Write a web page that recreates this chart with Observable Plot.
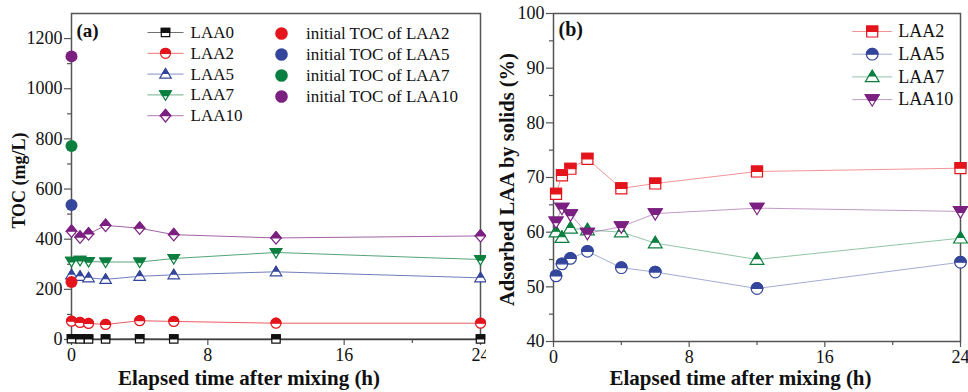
<!DOCTYPE html>
<html>
<head>
<meta charset="utf-8">
<script src="https://cdn.jsdelivr.net/npm/d3@7"></script>
<script src="https://cdn.jsdelivr.net/npm/@observablehq/plot@0.6"></script>
<style>
  html, body { margin: 0; padding: 0; background: white; }
  #wrap { display: flex; width: 968px; height: 392px; overflow: hidden; }
  #wrap > div { flex: none; }
  #wrap svg, #wrap svg text, #wrap svg g { font-family: "Liberation Serif", Tinos, "Times New Roman", Times, "DejaVu Serif", serif !important; }
</style>
</head>
<body>
<div id="wrap"><div id="pa"></div><div id="pb"></div></div>
<script>
// ---------- data ----------
const timesA = [0, 0.5, 1, 2, 4, 6, 12, 24];
const timesB = [0.15, 0.5, 1, 2, 4, 6, 12, 24];

const tocLAA0  = [3, 2, 2, 2, 3, 2, 2, 2];
const tocLAA2  = [73, 68, 64, 60, 75, 72, 65, 65];
const tocLAA5  = [258, 252, 246, 240, 252, 258, 270, 246];
const tocLAA7  = [312, 316, 311, 309, 309, 323, 347, 319];
const tocLAA10 = [432, 408, 421, 455, 444, 418, 405, 413];

const initialLabels = ["initial TOC of LAA2", "initial TOC of LAA5", "initial TOC of LAA7", "initial TOC of LAA10"];
const initialTOC = [229, 536, 772, 1129];

const adsLAA2  = [67.0, 70.4, 71.6, 73.4, 68.0, 68.9, 71.1, 71.7];
const adsLAA5  = [52.0, 54.2, 55.2, 56.5, 53.5, 52.7, 49.7, 54.5];
const adsLAA7  = [60.0, 59.0, 60.7, 60.4, 60.0, 58.0, 55.0, 58.9];
const adsLAA10 = [61.9, 64.4, 63.2, 59.8, 61.0, 63.4, 64.4, 63.8];

const xTicks = [0, 8, 16, 24];
const xMinor = [4, 12, 20];
const yTicksA = [0, 200, 400, 600, 800, 1000, 1200];
const yMinorA = [100, 300, 500, 700, 900, 1100];
const yTicksB = [40, 50, 60, 70, 80, 90, 100];
const yMinorB = [45, 55, 65, 75, 85, 95];

const labelsA = ["LAA0", "LAA2", "LAA5", "LAA7", "LAA10"];
const labelsB = ["LAA2", "LAA5", "LAA7", "LAA10"];

// ---------- styling ----------
const FONT = "'Liberation Serif', Tinos, 'Times New Roman', Times, 'DejaVu Serif', serif";
const C = {LAA0: "#111111", LAA2: "#e3141c", LAA5: "#34469b", LAA7: "#0b7f3f", LAA10: "#7b2080"};
const rad = s => Math.sqrt(s / Math.PI);
const S = {
  square: {
    full: {draw(c, s) { const r = rad(s); c.rect(-r, -r, 2 * r, 2 * r); }},
    top:  {draw(c, s) { const r = rad(s); c.rect(-r, -r, 2 * r, r); }}
  },
  circle: {
    full: {draw(c, s) { const r = rad(s); c.moveTo(r, 0); c.arc(0, 0, r, 0, 2 * Math.PI); c.closePath(); }},
    top:  {draw(c, s) { const r = rad(s); c.moveTo(-r, 0); c.arc(0, 0, r, Math.PI, 2 * Math.PI); c.closePath(); }}
  },
  up: {
    full: {draw(c, s) { const r = rad(s); c.moveTo(0, -1.1 * r); c.lineTo(1.15 * r, 0.8 * r); c.lineTo(-1.15 * r, 0.8 * r); c.closePath(); }},
    top:  {draw(c, s) { const r = rad(s); c.moveTo(0, -1.1 * r); c.lineTo(0.575 * r, -0.15 * r); c.lineTo(-0.575 * r, -0.15 * r); c.closePath(); }}
  },
  down: {
    full: {draw(c, s) { const r = rad(s); c.moveTo(-1.15 * r, -0.8 * r); c.lineTo(1.15 * r, -0.8 * r); c.lineTo(0, 1.1 * r); c.closePath(); }},
    top:  {draw(c, s) { const r = rad(s); c.moveTo(-1.15 * r, -0.8 * r); c.lineTo(1.15 * r, -0.8 * r); c.lineTo(0.575 * r, 0.15 * r); c.lineTo(-0.575 * r, 0.15 * r); c.closePath(); }}
  },
  diamond: {
    full: {draw(c, s) { const r = rad(s); c.moveTo(0, -1.2 * r); c.lineTo(r, 0); c.lineTo(0, 1.2 * r); c.lineTo(-r, 0); c.closePath(); }},
    top:  {draw(c, s) { const r = rad(s); c.moveTo(0, -1.2 * r); c.lineTo(r, 0); c.lineTo(-r, 0); c.closePath(); }}
  }
};
const dash = half => ({draw(c) { c.moveTo(-half, 0); c.lineTo(half, 0); }});

function rows(times, vals) { return times.map((t, i) => ({t, v: vals[i]})); }

function lineMark(data, color, op) {
  return Plot.line(data, {x: "t", y: "v", stroke: color, strokeWidth: 1, strokeOpacity: op});
}
function markerMarks(data, color, shape, r) {
  return [
    Plot.dot(data, {x: "t", y: "v", symbol: shape.full, r, fill: "white", stroke: color, strokeWidth: 1.2}),
    Plot.dot(data, {x: "t", y: "v", symbol: shape.top, r, fill: color, stroke: color, strokeWidth: 1.2})
  ];
}
function legendMarks(label, color, shape, r, op, {sx, tx, dy, half, fs}) {
  return [
    Plot.dot([0], {frameAnchor: "top-left", dx: sx, dy, symbol: dash(half), r: 1, fill: "none", stroke: color, strokeOpacity: op, strokeWidth: 1}),
    Plot.dot([0], {frameAnchor: "top-left", dx: sx, dy, symbol: shape.full, r, fill: "white", stroke: color, strokeWidth: 1.2}),
    Plot.dot([0], {frameAnchor: "top-left", dx: sx, dy, symbol: shape.top, r, fill: color, stroke: color, strokeWidth: 1.2}),
    Plot.text([label], {frameAnchor: "top-left", dx: tx, dy, text: d => d, textAnchor: "start", lineAnchor: "middle", fontSize: fs, fontFamily: FONT, fill: "#111"})
  ];
}
function axes(yTicks, yMinor) {
  return [
    Plot.axisX({ticks: xTicks, tickSize: 6, tickPadding: 3, tickFormat: d => String(d), label: null, stroke: "#555", strokeWidth: 1.2, fontSize: 18, fontFamily: FONT}),
    Plot.axisX({ticks: xMinor, tickSize: 4, tickFormat: () => "", label: null, stroke: "#555", strokeWidth: 1.2}),
    Plot.axisY({ticks: yTicks, tickSize: 7, tickPadding: 2, tickFormat: d => String(d), label: null, stroke: "#555", strokeWidth: 1.2, fontSize: 18, fontFamily: FONT}),
    Plot.axisY({ticks: yMinor, tickSize: 4, tickFormat: () => "", label: null, stroke: "#555", strokeWidth: 1.2})
  ];
}

// ---------- panel (a) ----------
const seriesA = [
  {label: "LAA0", vals: tocLAA0, shape: S.square, r: 4.2},
  {label: "LAA2", vals: tocLAA2, shape: S.circle, r: 5},
  {label: "LAA5", vals: tocLAA5, shape: S.up, r: 5},
  {label: "LAA7", vals: tocLAA7, shape: S.down, r: 5},
  {label: "LAA10", vals: tocLAA10, shape: S.diamond, r: 5.2}
];
const initData = initialTOC.map((v, i) => ({t: 0, v, c: C[labelsB[i]]}));

const marksA = [
  Plot.frame({stroke: "#555", strokeWidth: 1.5}),
  ...axes(yTicksA, yMinorA),
  ...seriesA.map(s => lineMark(rows(timesA, s.vals), C[s.label], 0.7)),
  ...seriesA.flatMap(s => markerMarks(rows(timesA, s.vals), C[s.label], s.shape, s.r)),
  Plot.dot(initData, {x: "t", y: "v", r: 6, fill: "c", stroke: "none"}),
  ...seriesA.flatMap((s, i) => legendMarks(labelsA[i], C[s.label], s.shape, s.r, 0.6,
      {sx: 94, tx: 119, dy: 19 + 20.8 * i, half: 18, fs: 17})),
  ...initialLabels.flatMap((lab, i) => [
    Plot.dot([0], {frameAnchor: "top-left", dx: 210, dy: 20 + 21 * i, r: 6.3, fill: C[labelsB[i]], stroke: "none"}),
    Plot.text([lab], {frameAnchor: "top-left", dx: 234.5, dy: 20 + 21 * i, text: d => d, textAnchor: "start", lineAnchor: "middle", fontSize: 17, fontFamily: FONT, fill: "#111"})
  ]),
  Plot.text(["(a)"], {frameAnchor: "top-left", dx: 5, dy: 17, text: d => d, textAnchor: "start", lineAnchor: "middle", fontSize: 19, fontWeight: "bold", fontFamily: FONT, fill: "#111"}),
  Plot.text(["Elapsed time after mixing (h)"], {frameAnchor: "bottom", dx: -27, dy: 39, text: d => d, textAnchor: "middle", lineAnchor: "middle", fontSize: 21, fontWeight: "bold", fontFamily: FONT, fill: "#111"}),
  Plot.text(["TOC (mg/L)"], {frameAnchor: "left", dx: -52, dy: 4, rotate: -90, text: d => d, textAnchor: "middle", lineAnchor: "middle", fontSize: 18, fontWeight: "bold", fontFamily: FONT, fill: "#111"})
];

const plotA = Plot.plot({
  width: 486, height: 392,
  marginLeft: 71, marginRight: 6, marginTop: 13, marginBottom: 53,
  x: {domain: [0, 24]}, y: {domain: [0, 1300]},
  style: "font-size: 18px; color: #111; background: white; overflow: hidden;",
  marks: marksA
});
document.getElementById("pa").appendChild(plotA);

// ---------- panel (b) ----------
const seriesB = [
  {label: "LAA2", vals: adsLAA2, shape: S.square, r: 5.5},
  {label: "LAA5", vals: adsLAA5, shape: S.circle, r: 5.8},
  {label: "LAA7", vals: adsLAA7, shape: S.up, r: 6},
  {label: "LAA10", vals: adsLAA10, shape: S.down, r: 6}
];

const marksB = [
  Plot.frame({stroke: "#555", strokeWidth: 1.5}),
  ...axes(yTicksB, yMinorB),
  ...seriesB.map(s => lineMark(rows(timesB, s.vals), C[s.label], 0.45)),
  ...seriesB.flatMap(s => markerMarks(rows(timesB, s.vals), C[s.label], s.shape, s.r)),
  ...seriesB.flatMap((s, i) => legendMarks(labelsB[i], C[s.label], s.shape, s.r, 0.45,
      {sx: 318.7, tx: 344.7, dy: 18 + 22.7 * i, half: 20, fs: 18})),
  Plot.text(["(b)"], {frameAnchor: "top-left", dx: 5, dy: 16, text: d => d, textAnchor: "start", lineAnchor: "middle", fontSize: 20, fontWeight: "bold", fontFamily: FONT, fill: "#111"}),
  Plot.text(["Elapsed time after mixing (h)"], {frameAnchor: "bottom", dx: -16.5, dy: 37, text: d => d, textAnchor: "middle", lineAnchor: "middle", fontSize: 21, fontWeight: "bold", fontFamily: FONT, fill: "#111"}),
  Plot.text(["Adsorbed LAA by solids (%)"], {frameAnchor: "left", dx: -46, dy: 2, rotate: -90, text: d => d, textAnchor: "middle", lineAnchor: "middle", fontSize: 20.5, fontWeight: "bold", fontFamily: FONT, fill: "#111"})
];

const plotB = Plot.plot({
  width: 482, height: 392,
  marginLeft: 67, marginRight: 8, marginTop: 13, marginBottom: 51,
  x: {domain: [0, 24]}, y: {domain: [40, 100]},
  style: "font-size: 18px; color: #111; background: white; overflow: hidden;",
  marks: marksB
});
document.getElementById("pb").appendChild(plotB);
</script>
</body>
</html>
